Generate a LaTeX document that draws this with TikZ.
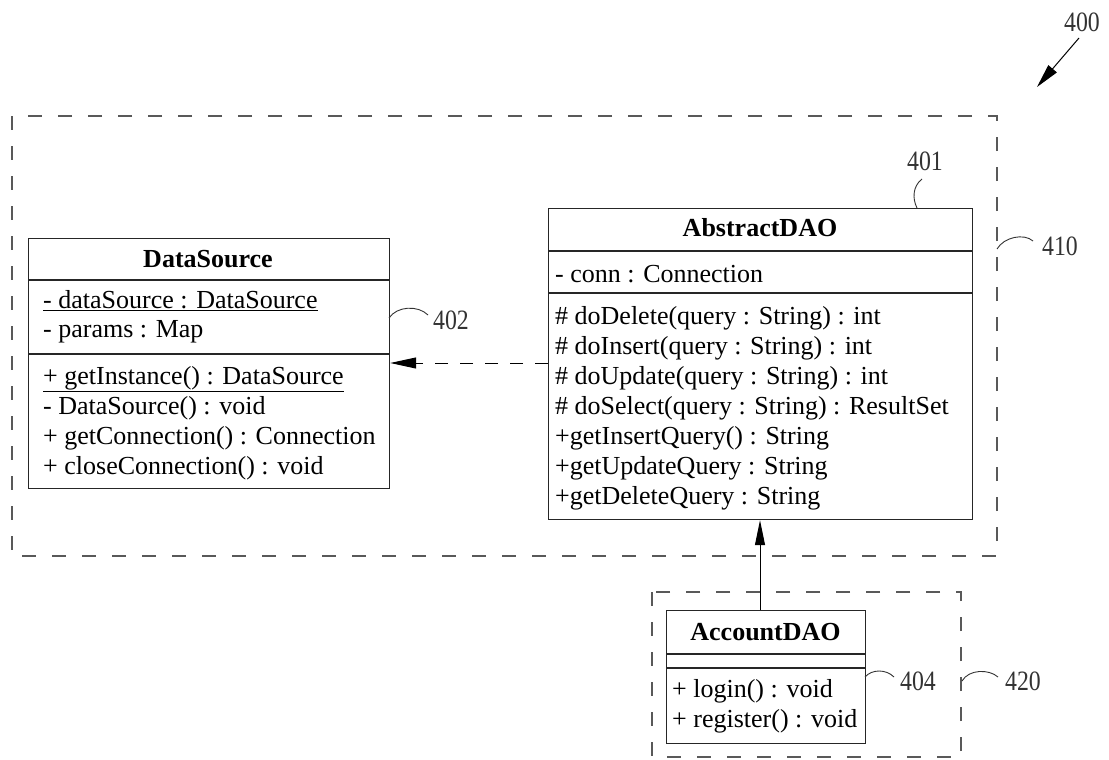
\documentclass[tikz,border=0pt]{standalone}
\usepackage{fontspec}
\setmainfont{Liberation Serif}
\usetikzlibrary{arrows.meta}
\begin{document}
\begin{tikzpicture}[x=1pt,y=-1pt,
  umlbox/.style={draw=black!85, line width=1.2pt, inner sep=0pt, anchor=north west},
  sepline/.style={draw=black!85, line width=1.2pt},
  grp/.style={draw=black!65, line width=1.2pt, dash pattern=on 14pt off 16pt},
  member/.style={anchor=base west, inner sep=0pt, font=\fontsize{26}{30}\selectfont},
  title/.style={anchor=base, inner sep=0pt, font=\fontsize{26}{30}\selectfont\bfseries},
  refnum/.style={inner sep=0pt, font=\fontsize{28}{30}\selectfont, xscale=0.85, text=black!80},
  leader/.style={draw=black!80, line width=0.9pt},
  dep/.style={draw=black, line width=1pt, dash pattern=on 13pt off 12pt,
    -{Triangle[length=26pt,width=11pt]}},
  gen/.style={draw=black, line width=1pt, -{Triangle[length=25pt,width=10pt]}},
  pointer/.style={draw=black, line width=1pt, -{Triangle[length=24pt,width=11pt]}},
  ]
\useasboundingbox (0,0) rectangle (1109,760);

% package groups
\draw[grp] (12,116) rectangle (997,556);
\draw[grp] (652,592) rectangle (961,757);

% DataSource class
\node[umlbox, minimum width=361pt, minimum height=250pt] (ds) at (28,238) {};
\draw[sepline] (28,280) -- (389,280);
\draw[sepline] (28,354) -- (389,354);
\node[title] (dsT) at (208,267) {DataSource};
\node[member] (dsA1) at (43,308) {\underline{- dataSource : DataSource}};
\node[member] (dsA2) at (43,337) {- params : Map};
\node[member] (dsM1) at (43,384) {\underline{+ getInstance() : DataSource}};
\node[member] (dsM2) at (43,414) {- DataSource() : void};
\node[member] (dsM3) at (43,444) {+ getConnection() : Connection};
\node[member] (dsM4) at (43,474) {+ closeConnection() : void};

% AbstractDAO class
\node[umlbox, minimum width=424pt, minimum height=311pt] (ad) at (548,208) {};
\draw[sepline] (548,251) -- (972,251);
\draw[sepline] (548,293) -- (972,293);
\node[title] (adT) at (760,236) {AbstractDAO};
\node[member] (adA1) at (555,282) {- conn : Connection};
\node[member] (adM1) at (555,324) {\# doDelete(query : String) : int};
\node[member] (adM2) at (555,354) {\# doInsert(query : String) : int};
\node[member] (adM3) at (555,384) {\# doUpdate(query : String) : int};
\node[member] (adM4) at (555,414) {\# doSelect(query : String) : ResultSet};
\node[member] (adM5) at (555,444) {+getInsertQuery() : String};
\node[member] (adM6) at (555,474) {+getUpdateQuery : String};
\node[member] (adM7) at (555,504) {+getDeleteQuery : String};

% AccountDAO class
\node[umlbox, minimum width=199pt, minimum height=133pt] (ac) at (666,610) {};
\draw[sepline] (666,654) -- (865,654);
\draw[sepline] (666,668) -- (865,668);
\node[title] (acT) at (765.5,640) {AccountDAO};
\node[member] (acM1) at (672,697) {+ login() : void};
\node[member] (acM2) at (672,727) {+ register() : void};

% relations
\draw[dep] (ad.west |- 0,363) -- (ds.east |- 0,363);
\draw[gen] (ac.north -| 760,0) -- (ad.south -| 760,0);

% reference numerals
\node[refnum] (n400) at (1082,22) {400};
\node[refnum] (n401) at (925,161) {401};
\node[refnum] (n402) at (451,320) {402};
\node[refnum] (n410) at (1060,246) {410};
\node[refnum] (n404) at (918,681) {404};
\node[refnum] (n420) at (1023,681) {420};

\coordinate (p400) at (1037,87);
\draw[pointer] (1079,38) -- (p400);

\draw[leader] (917,208) .. controls (912,198) and (913,186) .. (922,179);
\draw[leader] (389,318) .. controls (397,306) and (418,305) .. (428,315);
\draw[leader] (997,249) .. controls (1004,237) and (1024,233) .. (1033,241);
\draw[leader] (865,677) .. controls (872,669) and (886,669) .. (894,677);
\draw[leader] (962,681) .. controls (969,669) and (989,669) .. (998,677);
\end{tikzpicture}
\end{document}
